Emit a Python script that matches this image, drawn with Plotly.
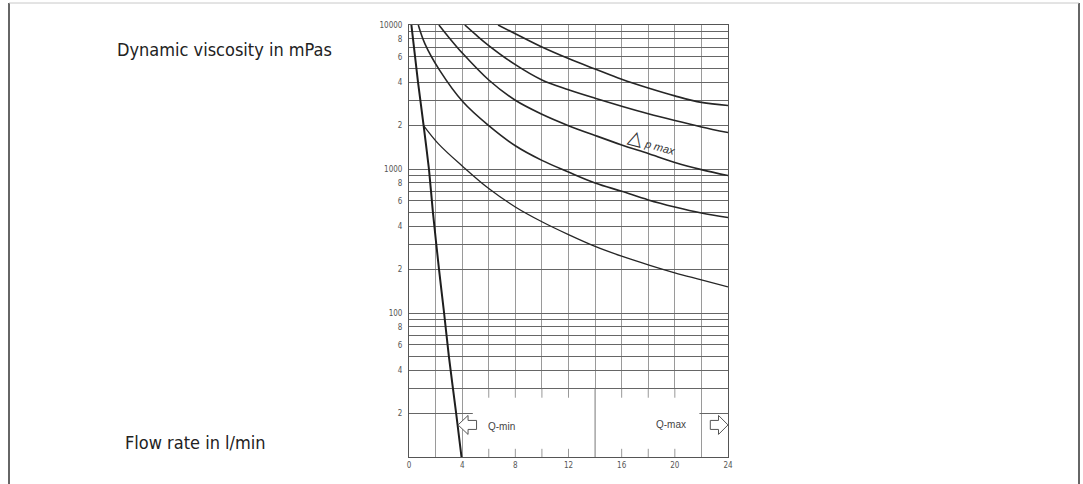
import numpy as np
import plotly.graph_objects as go

# ---------------- data ----------------
qmin_flow = [0.18, 0.68, 1.1, 1.5, 1.8, 2.26, 2.64, 3.0, 3.55, 3.95]
qmin_visc = [10000, 4000, 2000, 1000, 500, 200, 100, 50, 20, 10]

curve1_flow = [1.1, 2.2, 4.1, 6, 8, 10, 12, 14, 16, 18, 20, 22, 24]
curve1_visc = [2000, 1500, 1030, 731, 545, 430, 350, 290, 248, 216, 190, 170, 152]

curve2_flow = [0.7, 1.2, 2.31, 4.07, 6, 8, 10, 12, 14, 16, 18, 20, 22, 24]
curve2_visc = [10000, 7400, 4842, 2918, 2000, 1450, 1148, 953, 800, 700, 610, 545, 495, 460]

curve3_flow = [2.25, 3, 4, 6, 8, 10, 12, 14, 16, 18, 20, 22, 24]
curve3_visc = [10000, 8200, 6400, 4150, 3000, 2400, 2000, 1710, 1470, 1280, 1110, 990, 900]

curve4_flow = [4.2, 5, 6, 8, 10, 12, 14, 16, 18, 20, 22, 24]
curve4_visc = [10000, 8600, 7200, 5300, 4150, 3550, 3100, 2730, 2420, 2170, 1960, 1790]

curve5_flow = [6.7, 8, 10, 12, 14, 16, 18, 20, 22, 24]
curve5_visc = [10000, 8700, 7035, 5850, 4950, 4200, 3650, 3220, 2900, 2760]

# axis ticks
x_tickvals = list(range(0, 25, 2))
x_ticktext = [str(v) if v % 4 == 0 else "" for v in x_tickvals]
y_mantissas = [1, 2, 3, 4, 5, 6, 7, 8, 9]
y_decades = [10, 100, 1000]
y_tickvals = [m * d for d in y_decades for m in y_mantissas] + [10000]
y_ticktext = []
for v in y_tickvals:
    m = int(round(v / 10 ** int(np.floor(np.log10(v)))))
    if v in (100, 1000, 10000):
        y_ticktext.append(str(v))
    elif m in (2, 4, 6, 8) and v > 10:
        y_ticktext.append(str(m))
    else:
        y_ticktext.append("")

# Q-box region (white area at the bottom of the chart)
box_x = [4.8, 21.85]
box_y = [10, 29.6]
box_divider = 14
box_tick_x = [6, 8, 10, 12, 16, 18, 20]
box_tick_top = 25.8
box_tick_bottom = 11.4
qmin_arrow_tip = (3.69, 16.7)
qmax_arrow_tip = (24.0, 16.7)

# ---------------- figure ----------------
W, H = 1083, 484
ML, MR, MT, MB = 409, 355, 25, 27
PW, PH = W - ML - MR, H - MT - MB

fig = go.Figure()

curves = [
    (curve1_flow, curve1_visc, 1.3),
    (curve2_flow, curve2_visc, 1.6),
    (curve3_flow, curve3_visc, 1.6),
    (curve4_flow, curve4_visc, 1.6),
    (curve5_flow, curve5_visc, 1.6),
]
for fx, fy, lw in curves:
    fig.add_trace(go.Scatter(x=fx, y=fy, mode="lines",
                             line=dict(color="#262626", width=lw, shape="spline", smoothing=1.0),
                             hoverinfo="skip", showlegend=False))
fig.add_trace(go.Scatter(x=qmin_flow, y=qmin_visc, mode="lines",
                         line=dict(color="#1e1e1e", width=2.0, shape="spline", smoothing=0.6),
                         hoverinfo="skip", showlegend=False))

shapes = []
# white box covering the grid in the Q region
shapes.append(dict(type="rect", xref="x", yref="y", x0=box_x[0], x1=box_x[1], y0=box_y[0], y1=box_y[1],
                   fillcolor="white", line=dict(width=0), layer="between"))
shapes.append(dict(type="line", xref="x", yref="y", x0=box_divider, x1=box_divider, y0=box_y[0], y1=box_y[1],
                   line=dict(color="#777", width=1), layer="between"))
for tx in box_tick_x:
    shapes.append(dict(type="line", xref="x", yref="y", x0=tx, x1=tx, y0=box_tick_top, y1=box_y[1],
                       line=dict(color="#999", width=1), layer="between"))
    shapes.append(dict(type="line", xref="x", yref="y", x0=tx, x1=tx, y0=box_y[0], y1=box_tick_bottom,
                       line=dict(color="#999", width=1), layer="between"))

# hollow arrows (pixel-sized, anchored at the arrow tips)
left_arrow = "M0,0 L10,9.5 L10,4.5 L18.5,4.5 L18.5,-4.5 L10,-4.5 L10,-9.5 Z"
right_arrow = "M0,0 L-9.5,9.5 L-9.5,4.5 L-17.7,4.5 L-17.7,-4.5 L-9.5,-4.5 L-9.5,-9.5 Z"
for tip, p in ((qmin_arrow_tip, left_arrow), (qmax_arrow_tip, right_arrow)):
    shapes.append(dict(type="path", xref="x", yref="y", xsizemode="pixel", ysizemode="pixel",
                       xanchor=tip[0], yanchor=tip[1], path=p,
                       fillcolor="white", line=dict(color="#555", width=1), layer="above"))


def px_x(p):
    return (p - ML) / PW


def px_y(p):
    return (H - MB - p) / PH


# outer frame of the image
shapes.append(dict(type="line", xref="paper", yref="paper", x0=px_x(9), x1=px_x(9), y0=px_y(3), y1=px_y(495),
                   line=dict(color="#333", width=1.5)))
shapes.append(dict(type="line", xref="paper", yref="paper", x0=px_x(1079), x1=px_x(1079), y0=px_y(3), y1=px_y(495),
                   line=dict(color="#333", width=1.5)))
shapes.append(dict(type="line", xref="paper", yref="paper", x0=px_x(9), x1=px_x(1079), y0=px_y(3), y1=px_y(3),
                   line=dict(color="#c8c8c8", width=1)))

narrow = "DejaVu Sans Condensed, Liberation Sans Narrow, sans-serif"
annotations = [
    dict(text="Dynamic viscosity in mPas", xref="paper", yref="paper", x=px_x(115), y=px_y(50),
         xanchor="left", yanchor="middle", showarrow=False,
         font=dict(family=narrow, size=18, color="#222")),
    dict(text="Flow rate in l/min", xref="paper", yref="paper", x=px_x(123), y=px_y(442),
         xanchor="left", yanchor="middle", showarrow=False,
         font=dict(family=narrow, size=18, color="#222")),
    dict(text="<span style='font-size:19px'>△</span> <i>p max</i>", x=18.3, y=np.log10(1540),
         xref="x", yref="y", showarrow=False, textangle=15,
         font=dict(family="Liberation Sans, Arial, sans-serif", size=11, color="#333")),
    dict(text="Q-min", x=6.95, y=np.log10(16.3), xref="x", yref="y", showarrow=False,
         font=dict(family="Liberation Sans, Arial, sans-serif", size=10, color="#444")),
    dict(text="Q-max", x=19.7, y=np.log10(16.9), xref="x", yref="y", showarrow=False,
         font=dict(family="Liberation Sans, Arial, sans-serif", size=10, color="#444")),
]

fig.update_layout(
    width=W, height=H,
    margin=dict(l=ML, r=MR, t=MT, b=MB, pad=0),
    paper_bgcolor="white", plot_bgcolor="white",
    shapes=shapes, annotations=annotations,
    xaxis=dict(range=[0, 24], tickvals=x_tickvals, ticktext=x_ticktext,
               showgrid=True, gridcolor="#9a9a9a", gridwidth=1, zeroline=False,
               showline=True, linecolor="#555", linewidth=1, mirror=True,
               ticks="", ticklabelstandoff=0,
               tickfont=dict(family=narrow, size=8, color="#555")),
    yaxis=dict(type="log", range=[1, 4], tickvals=y_tickvals, ticktext=y_ticktext,
               showgrid=True, gridcolor="#666", gridwidth=1, zeroline=False,
               showline=True, linecolor="#555", linewidth=1, mirror=True,
               ticks="", ticklabelstandoff=4,
               tickfont=dict(family=narrow, size=8, color="#555")),
)

fig.write_html("out.html", config={"displayModeBar": False},
               post_script="document.body.style.margin='0';")
